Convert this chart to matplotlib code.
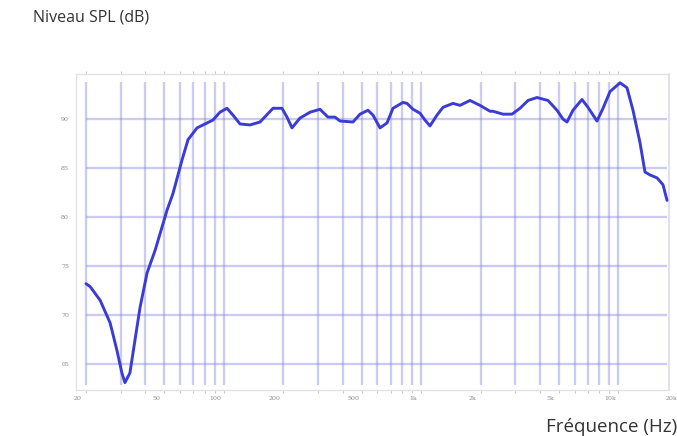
import numpy as np
import matplotlib.pyplot as plt
from matplotlib.transforms import ScaledTranslation

# Réponse en fréquence
freq = [20, 21, 23.6, 26.5, 28.7, 30.4, 31.5, 33.4, 35.4, 37.6, 40.8, 44.8,
        51.5, 55.2, 61.3, 65.8, 73.1, 82.1, 88.0, 95.5, 103.7, 111.2, 120.7,
        135.6, 152.4, 177.4, 197.0, 208.8, 221.4, 243.0, 273.1, 307.0, 337.0,
        365.7, 387.7, 451.2, 489.6, 537.6, 569.9, 618.3, 670.8, 719.6, 808.9,
        847.6, 908.9, 986.4, 1045, 1108, 1202, 1290, 1449, 1573, 1767, 1986,
        2231, 2310, 2597, 2885, 3168, 3479, 3862, 4391, 4878, 5233, 5483,
        5879, 6532, 7003, 7781, 8346, 9055, 10178, 11041, 11844, 12851,
        13621, 14444, 15675, 16811, 17617]
spl = [73.2, 72.9, 71.5, 69.2, 66.4, 64.1, 63.1, 64.1, 67.4, 70.8, 74.3, 76.6,
       80.7, 82.4, 85.8, 87.9, 89.1, 89.6, 89.9, 90.7, 91.1, 90.4, 89.5,
       89.4, 89.7, 91.1, 91.1, 90.2, 89.1, 90.1, 90.7, 91.0, 90.2,
       90.2, 89.8, 89.7, 90.5, 90.9, 90.4, 89.1, 89.6, 91.1, 91.7,
       91.6, 91.0, 90.6, 89.9, 89.3, 90.4, 91.2, 91.6, 91.4, 91.9, 91.4,
       90.8, 90.8, 90.5, 90.5, 91.1, 91.9, 92.2, 91.9, 90.9, 90.0, 89.7,
       90.9, 92.0, 91.2, 89.8, 91.1, 92.8, 93.7, 93.2, 90.9, 87.6,
       84.6, 84.3, 84.0, 83.3, 81.7]

# Grille et graduations
grid_freq = [20, 30, 40, 50, 60, 70, 80, 90, 100, 200, 300, 400, 500, 600,
             700, 800, 900, 1000, 2000, 3000, 4000, 5000, 6000, 7000, 8000,
             9000, 10000]
grid_db = [65, 70, 75, 80, 85, 90]
xticks = [20, 50, 100, 200, 500, 1000, 2000, 5000, 10000]
xlabels = ['20', '50', '100', '200', '500', '1k', '2k', '5k', '10k']

fig = plt.figure(figsize=(6.77, 4.36), dpi=100)
ax = fig.add_axes([76 / 677, 46 / 436, 593 / 677, 316 / 436])
ax.set_xscale('log')
ax.set_xlim(17.8, 17.8 * 10 ** (593 / 197.3))
ax.set_ylim(62.35, 94.6)

grid_col = (0.5, 0.5, 0.88, 0.4)
ax.vlines(grid_freq, 62.86, 93.78, color=grid_col, lw=1.7, zorder=1)
ax.hlines(grid_db, 20, 17617, color=grid_col, lw=1.7, zorder=1)

ax.plot(freq, spl, color='#3b3bd6', lw=2.1, solid_joinstyle='round',
        solid_capstyle='round', zorder=3)

# Cadre
for s in ['top', 'left', 'bottom']:
    ax.spines[s].set_color('#e2e2e2')
    ax.spines[s].set_linewidth(1)
ax.spines['right'].set_color((0.5, 0.5, 0.88, 0.3))
ax.spines['right'].set_linewidth(1.2)

ax.set_xticks(xticks)
ax.set_xticklabels(xlabels, family='DejaVu Serif', fontsize=4.5, color='#888888')
ax.xaxis.set_minor_locator(plt.matplotlib.ticker.LogLocator(base=10, subs=np.arange(2, 10)))
ax.xaxis.set_minor_formatter(plt.NullFormatter())
ax.tick_params(axis='x', which='both', length=2, width=0.6, color='#bbbbbb',
               pad=2, top=True)
offset = ScaledTranslation(-6 / 72, 0, fig.dpi_scale_trans)
for lab in ax.get_xticklabels():
    lab.set_transform(lab.get_transform() + offset)
# dernière étiquette, au-delà du bord droit
ax.text(1.0, -0.018, '20k', transform=ax.transAxes + ScaledTranslation(2 / 72, 0, fig.dpi_scale_trans),
        family='DejaVu Serif', fontsize=4.5, color='#888888', ha='center', va='top', clip_on=False)

ax.set_yticks(grid_db)
ax.set_yticklabels([str(v) for v in grid_db], family='DejaVu Serif',
                   fontsize=4.5, color='#888888')
ax.tick_params(axis='y', length=0, pad=5)

fig.text(33 / 677, 1 - 18 / 436, 'Niveau SPL (dB)', family='Open Sans',
         fontsize=11.5, color='#333333', ha='left', va='center')
fig.text(677 / 677, 1 - 427 / 436, 'Fréquence (Hz)', family='Open Sans',
         fontsize=13.5, color='#333333', ha='right', va='center')

fig.savefig('out.png', dpi=100)
